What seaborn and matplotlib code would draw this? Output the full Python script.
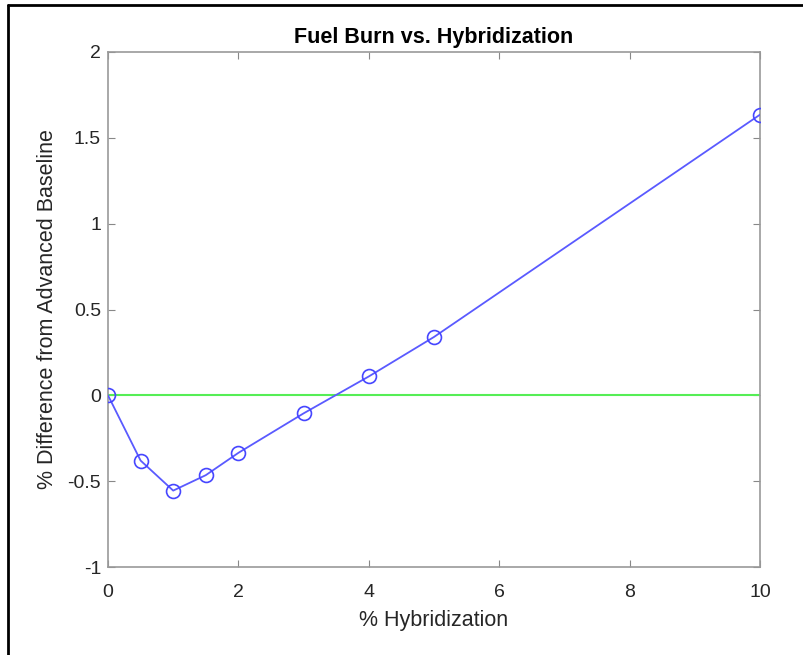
import matplotlib
matplotlib.use("Agg")
import matplotlib.pyplot as plt
import seaborn as sns
import pandas as pd
from matplotlib.lines import Line2D

hybridization = [0, 0.5, 1, 1.5, 2, 3, 4, 5, 10]
fuel_diff = [0.0, -0.38, -0.555, -0.465, -0.335, -0.105, 0.11, 0.34, 1.635]
baseline = 0.0
xticks = [0, 2, 4, 6, 8, 10]
yticks = [-1, -0.5, 0, 0.5, 1, 1.5, 2]
ytick_labels = ["-1", "-0.5", "0", "0.5", "1", "1.5", "2"]

sns.set_theme(style="white")
plt.rcParams['font.family'] = ['Liberation Sans', 'DejaVu Sans']

fig = plt.figure(figsize=(8.04, 6.55), dpi=100)
ax = fig.add_axes([108/804, 1-567/655, (760-108)/804, (567-52)/655])

df = pd.DataFrame({"x": hybridization, "y": fuel_diff})
ax.axhline(baseline, color="#55ee55", lw=1.5, zorder=1)
sns.lineplot(data=df, x="x", y="y", ax=ax, color="#5a5aff", lw=1.3,
             marker="o", markersize=10, markerfacecolor="none",
             markeredgecolor="#4646ff", markeredgewidth=1.2, zorder=3)

ax.set_xlim(0, 10)
ax.set_ylim(-1, 2)
ax.set_xticks(xticks)
ax.set_xticklabels([str(t) for t in xticks])
ax.set_yticks(yticks)
ax.set_yticklabels(ytick_labels)
ax.tick_params(direction="in", length=5, width=0.8, color="#888888",
               labelcolor="#262626", labelsize=14, top=True, right=True,
               bottom=True, left=True)
ax.tick_params(axis="x", pad=12.5)
ax.tick_params(axis="y", pad=5)
for s in ax.spines.values():
    s.set_color("#999999")
    s.set_linewidth(1.2)
ax.set_xlabel("% Hybridization", fontsize=15.5, color="#262626", labelpad=6)
ax.set_ylabel("% Difference from Advanced Baseline", fontsize=15.5, color="#262626", labelpad=7)
ax.set_title("Fuel Burn vs. Hybridization", fontsize=15.5, fontweight="bold", color="black", pad=6.5)

fig.add_artist(Line2D([8/804, 1], [1-5/655, 1-5/655], color="black", lw=2, transform=fig.transFigure))
fig.add_artist(Line2D([8/804, 8/804], [0, 1-5/655], color="black", lw=2, transform=fig.transFigure))

fig.savefig("out.png", dpi=100)
